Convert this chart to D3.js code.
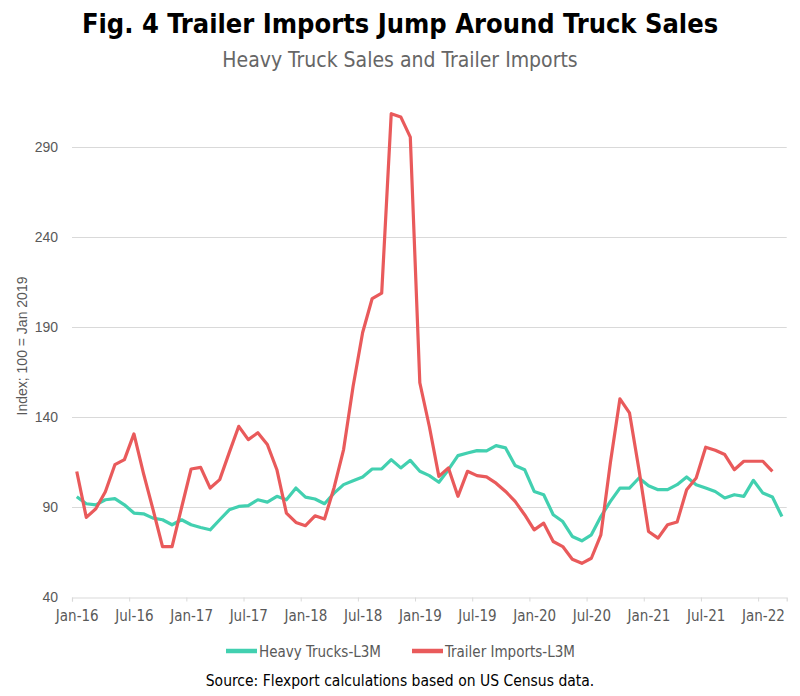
<!DOCTYPE html>
<html><head><meta charset="utf-8">
<script src="https://cdn.jsdelivr.net/npm/d3@7"></script>
<style>
body{margin:0;background:#fff;}
svg{display:block;}
</style></head>
<body>
<svg id="chart" width="800" height="696"></svg>
<script>
const tickLabels = ["Jan-16","Jul-16","Jan-17","Jul-17","Jan-18","Jul-18","Jan-19","Jul-19","Jan-20","Jul-20","Jan-21","Jul-21","Jan-22"];
const yTicks = [40, 90, 140, 190, 240, 290];
const seriesNames = ["Heavy Trucks-L3M", "Trailer Imports-L3M"];
const heavyTrucks = [96,92.1,91.5,94.3,94.9,91.5,86.9,86.5,84.1,83.2,80.4,83.2,80.4,78.9,77.6,83.2,88.7,90.6,91,94.3,93,96.2,94.3,100.8,95.8,94.7,92.1,98,102.7,104.9,107,111.4,111.4,116.6,112,116.2,110.1,107.7,104,111,118.8,120.3,121.6,121.5,124.4,123.1,113.3,111,98.9,97.1,86,82.2,73.9,71.5,74.8,85,93.4,100.8,100.8,106.4,102.1,99.9,99.9,102.7,107,102.7,100.8,98.9,95.3,97.1,96.2,105.1,98,95.8,85];
const trailerImports = [110,84.5,89.3,98.8,113.8,116.6,130.9,109,89,68.3,68.3,90,111.4,112.3,100.8,105.5,120.5,135.1,127.7,131.5,125,111,86.9,81.7,79.9,85.4,83.6,101,122.2,157.4,187.2,206.1,209.1,308.8,307,295.8,159.3,135,107.3,112,96.2,110.1,107.7,107,103.5,98.9,93.4,86,77.6,81.3,71.1,68.3,61.3,59,61.8,74.8,115,150.4,142.6,111,76.7,73,80.4,81.9,99.9,106.4,123.5,121.8,119.4,111,115.7,115.7,115.7,110.1];
const colors = ["#42d0b0", "#e95a5b"];

const narrow = "'DejaVu Sans Condensed','Liberation Sans Narrow',sans-serif";
const svg = d3.select("#chart");
const nMonths = 75;
const x = d3.scaleLinear().domain([0, nMonths]).range([72, 786.7]);
const y = d3.scaleLinear().domain([40, 290]).range([597.5, 147.5]);

// title
svg.append("text").attr("x", 400).attr("y", 33).attr("text-anchor", "middle")
  .style("font-family", narrow).style("font-weight", "bold").style("font-size", "27px").attr("fill", "#000")
  .text("Fig. 4 Trailer Imports Jump Around Truck Sales");
svg.append("text").attr("x", 400).attr("y", 67).attr("text-anchor", "middle")
  .style("font-family", narrow).style("font-size", "21px").attr("fill", "#666")
  .text("Heavy Truck Sales and Trailer Imports");

// gridlines
svg.append("g").selectAll("line").data(yTicks.filter(d => d > 40)).join("line")
  .attr("x1", x(0)).attr("x2", x(nMonths)).attr("y1", d => y(d)).attr("y2", d => y(d))
  .attr("stroke", "#d9d9d9").attr("stroke-width", 1.2);

// y axis labels
const yAxis = d3.axisLeft(y).tickValues(yTicks).tickSize(0).tickPadding(14);
const gy = svg.append("g").attr("transform", `translate(${x(0)},0)`).call(yAxis);
gy.select(".domain").remove();
gy.selectAll("text").style("font-family", "'Liberation Sans',Arial,sans-serif").style("font-size", "14px").attr("fill", "#595959");

svg.append("text").attr("transform", `translate(27,346) rotate(-90)`).attr("text-anchor", "middle")
  .style("font-family", "'Liberation Sans',Arial,sans-serif").style("font-size", "14px").attr("fill", "#595959")
  .text("Index; 100 = Jan 2019");

// x axis: ticks at category boundaries
const boundaries = d3.range(0, 73, 6);
const xAxisTicks = d3.axisBottom(x).tickValues(boundaries).tickSize(4).tickFormat("");
const gx = svg.append("g").attr("transform", `translate(0,${y(40)})`).call(xAxisTicks);
gx.select(".domain").attr("stroke", "#d9d9d9").attr("stroke-width", 1.2);
gx.selectAll(".tick line").attr("stroke", "#d9d9d9");

const labelPos = boundaries.map(b => b + 0.5);
const xAxisLabels = d3.axisBottom(x).tickValues(labelPos).tickSize(0).tickPadding(13)
  .tickFormat((d, i) => tickLabels[i]);
const gxl = svg.append("g").attr("transform", `translate(0,${y(40)})`).call(xAxisLabels);
gxl.select(".domain").remove();
gxl.selectAll("text").style("font-family", narrow).style("font-size", "15px").attr("fill", "#595959");

// lines
const line = d3.line().x((d, i) => x(i + 0.5)).y(d => y(d));
[heavyTrucks, trailerImports].forEach((s, j) => {
  svg.append("path").datum(s).attr("d", line).attr("fill", "none")
    .attr("stroke", colors[j]).attr("stroke-width", 3.2).attr("stroke-linejoin", "round").attr("stroke-linecap", "butt");
});

// legend
const legendX = [226, 412];
seriesNames.forEach((name, j) => {
  const g = svg.append("g").attr("transform", `translate(${legendX[j]},651)`);
  g.append("line").attr("x1", 0).attr("x2", 31).attr("y1", 0).attr("y2", 0)
    .attr("stroke", colors[j]).attr("stroke-width", 4.5);
  g.append("text").attr("x", 33).attr("y", 5.5).style("font-family", narrow).style("font-size", "15px")
    .attr("fill", "#595959").text(name);
});

svg.append("text").attr("x", 400).attr("y", 686).attr("text-anchor", "middle")
  .style("font-family", narrow).style("font-size", "15.5px").attr("fill", "#000")
  .text("Source: Flexport calculations based on US Census data.");
</script>
</body></html>
